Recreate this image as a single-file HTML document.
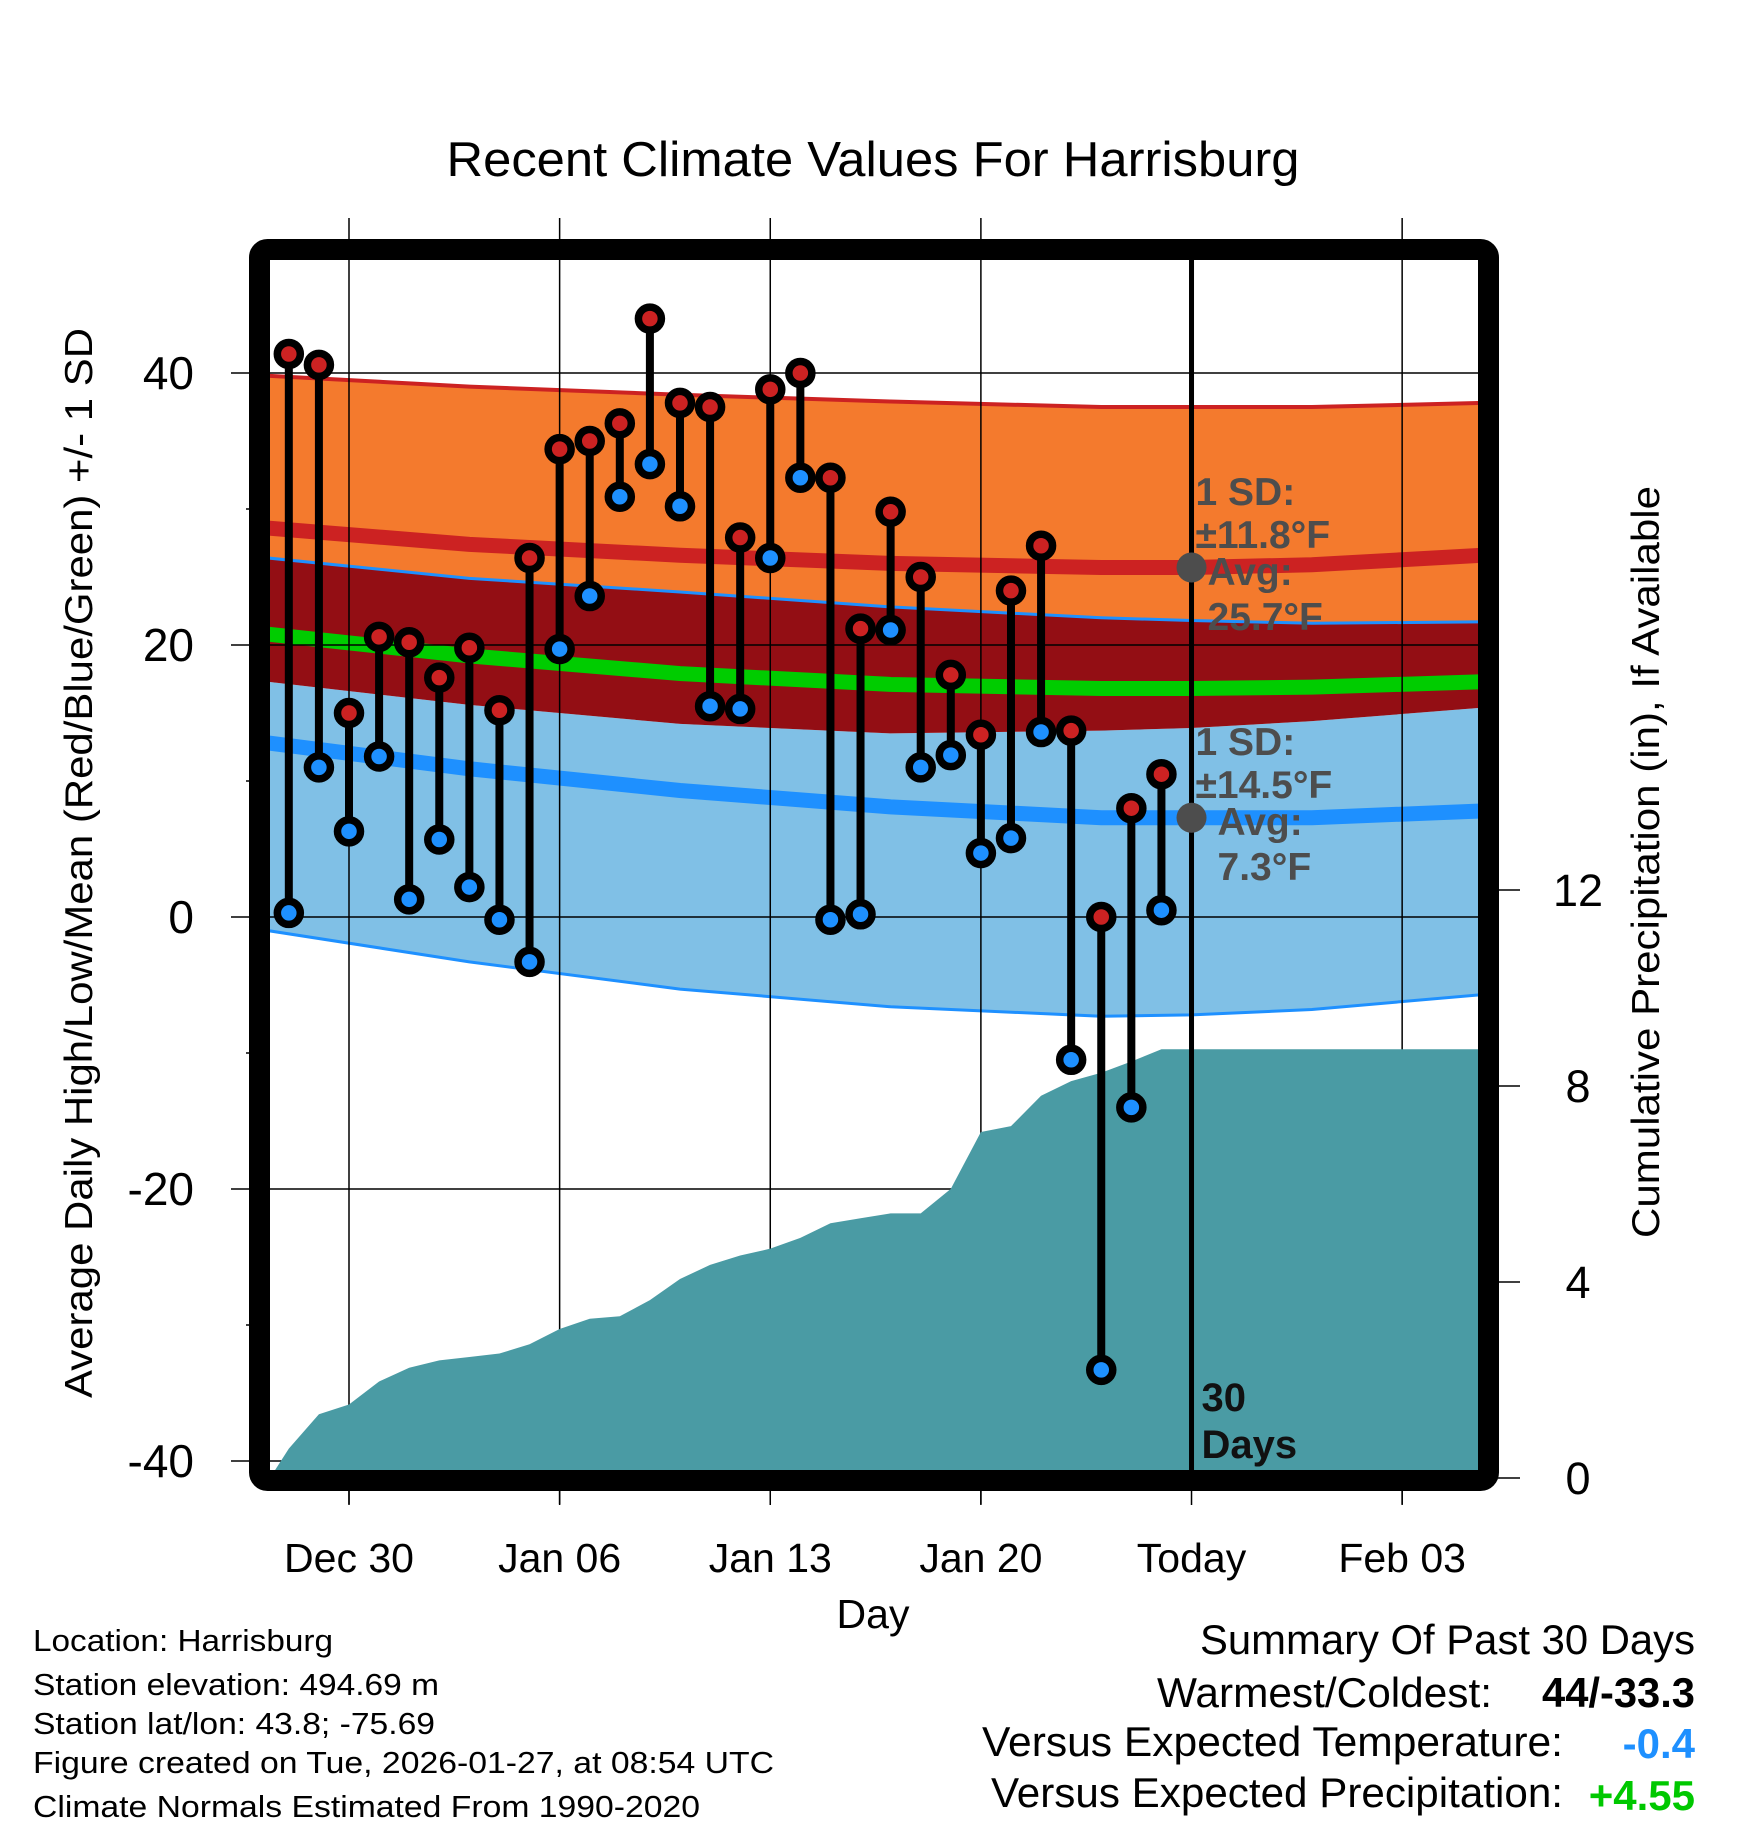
<!DOCTYPE html>
<html><head><meta charset="utf-8"><style>
html,body{margin:0;padding:0;background:#fff;}
svg{display:block;font-family:"Liberation Sans",Arial,sans-serif;}
</style></head><body>
<svg id="chart" width="1748" height="1828" viewBox="0 0 1748 1828" xmlns="http://www.w3.org/2000/svg">
<defs><clipPath id="plotclip"><rect x="270" y="260" width="1208" height="1211"/></clipPath></defs>
<text x="873" y="176" font-size="49" text-anchor="middle" textLength="853" lengthAdjust="spacingAndGlyphs">Recent Climate Values For Harrisburg</text>
<g id="bands" clip-path="url(#plotclip)"></g>
<g id="grid"></g>
<g id="precip" clip-path="url(#plotclip)"></g>
<g id="annot"></g>
<g id="marks"></g>
<rect x="259.5" y="249.5" width="1229" height="1231" rx="8" fill="none" stroke="#000" stroke-width="21"/>
<g id="axes"></g>
<text transform="translate(92,863) rotate(-90)" font-size="39" text-anchor="middle" textLength="1070" lengthAdjust="spacingAndGlyphs">Average Daily High/Low/Mean (Red/Blue/Green) +/- 1 SD</text>
<text transform="translate(1659,862) rotate(-90)" font-size="39" text-anchor="middle" textLength="752" lengthAdjust="spacingAndGlyphs">Cumulative Precipitation (in), If Available</text>
<text x="873" y="1628" font-size="41" text-anchor="middle">Day</text>
<g font-size="31">
<text x="33" y="1651" textLength="300" lengthAdjust="spacingAndGlyphs">Location: Harrisburg</text>
<text x="33" y="1695" textLength="406" lengthAdjust="spacingAndGlyphs">Station elevation: 494.69 m</text>
<text x="33" y="1734" textLength="402" lengthAdjust="spacingAndGlyphs">Station lat/lon: 43.8; -75.69</text>
<text x="33" y="1773" textLength="741" lengthAdjust="spacingAndGlyphs">Figure created on Tue, 2026-01-27, at 08:54 UTC</text>
<text x="33" y="1817" textLength="667" lengthAdjust="spacingAndGlyphs">Climate Normals Estimated From 1990-2020</text>
</g>
<g font-size="42">
<text x="1695" y="1654" text-anchor="end" textLength="495" lengthAdjust="spacingAndGlyphs">Summary Of Past 30 Days</text>
<text x="1492" y="1707" text-anchor="end" textLength="335" lengthAdjust="spacingAndGlyphs">Warmest/Coldest:</text>
<text x="1695" y="1707" text-anchor="end" font-weight="bold" textLength="153" lengthAdjust="spacingAndGlyphs">44/-33.3</text>
<text x="1563" y="1756" text-anchor="end" textLength="581" lengthAdjust="spacingAndGlyphs">Versus Expected Temperature:</text>
<text x="1695" y="1758" text-anchor="end" font-weight="bold" fill="#1e90ff">-0.4</text>
<text x="1563" y="1807" text-anchor="end" textLength="572" lengthAdjust="spacingAndGlyphs">Versus Expected Precipitation:</text>
<text x="1695" y="1810" text-anchor="end" font-weight="bold" fill="#00c800">+4.55</text>
</g>
</svg>
<script>
// ---- data ----
const obsDays = [-2,-1,0,1,2,3,4,5,6,7,8,9,10,11,12,13,14,15,16,17,18,19,20,21,22,23,24,25,26,27];
const highs = [41.4,40.6,15,20.6,20.2,17.6,19.8,15.2,26.4,34.4,35,36.3,44,37.8,37.5,27.9,38.8,40,32.3,21.2,29.8,25,17.8,13.4,24,27.3,13.7,0,8,10.5];
const lows = [0.3,11,6.3,11.8,1.3,5.7,2.2,-0.2,-3.3,19.7,23.6,30.9,33.3,30.2,15.5,15.3,26.4,32.3,-0.2,0.2,21.1,11,11.9,4.7,5.8,13.6,-10.5,-33.3,-14,0.5];
const precip = [0.6,1.3,1.5,1.97,2.25,2.4,2.47,2.54,2.73,3.04,3.25,3.3,3.63,4.06,4.35,4.54,4.68,4.9,5.2,5.3,5.4,5.4,5.9,7.06,7.18,7.8,8.1,8.27,8.5,8.75];
const normDays = [-2.7,4,11,18,25,28,32,37.7];
const hiUpper = [39.8,39.0,38.4,37.9,37.5,37.5,37.5,37.8];
const hiMean = [28.6,27.4,26.6,26.0,25.7,25.7,25.9,26.6];
const hiLower = [26.4,24.9,23.9,22.8,22.0,21.8,21.6,21.7];
const avgMean = [20.8,19.2,17.9,17.1,16.8,16.8,16.9,17.3];
const loUpper = [17.3,15.6,14.2,13.5,13.7,13.9,14.4,15.4];
const loMean = [12.8,10.9,9.3,8.1,7.3,7.3,7.3,7.8];
const loLower = [-1.0,-3.3,-5.3,-6.6,-7.3,-7.2,-6.8,-5.7];
const xTickDays = [0,7,14,21,28,35];
const xTickLabels = ["Dec 30","Jan 06","Jan 13","Jan 20","Today","Feb 03"];
const yTicks = [40,20,0,-20,-40];
const yMinor = [30,10,-10,-30];
const pTicks = [12,8,4,0];
const todayDay = 28;
const hiSD = 11.8, loSD = 14.5, hiAvgToday = 25.7, loAvgToday = 7.3;

// ---- scales ----
const X = d => 349 + d * 30.09;
const Y = t => 917 - t * 13.6;
const P = p => 1478 - p * 49;
const NS = "http://www.w3.org/2000/svg";
function mk(tag, attrs, parent){const e=document.createElementNS(NS,tag);for(const k in attrs)e.setAttribute(k,attrs[k]);parent.appendChild(e);return e;}
const bands=document.getElementById('bands'),grid=document.getElementById('grid'),pg=document.getElementById('precip'),marks=document.getElementById('marks'),axes=document.getElementById('axes'),annot=document.getElementById('annot');
const xL=270, xR=1478;
function line(arr){return normDays.map((d,i)=>X(d)+','+Y(arr[i])).join(' ');}
function band(up,lo){return normDays.map((d,i)=>X(d)+','+Y(up[i])).join(' ')+' '+normDays.slice().reverse().map((d,j)=>{const i=normDays.length-1-j;return X(d)+','+Y(lo[i]);}).join(' ');}
let e;
e=mk('polygon',{points:band(loUpper,loLower),fill:'#80c0e6'},bands);


e=mk('polygon',{points:band(hiLower,loUpper),fill:'#930e14'},bands);


e=mk('polygon',{points:band(hiUpper,hiLower),fill:'#f47a2d'},bands);


const lines=[[hiUpper,'#cc2222',4,'high-upper-line'],[hiLower,'#1e90ff',3,'high-lower-line'],[loLower,'#1e90ff',3,'low-lower-line'],[hiMean,'#cc2222',15,'high-mean-line'],[avgMean,'#00cc00',15,'mean-line'],[loMean,'#1e90ff',15,'low-mean-line']];
for(const [arr,c,w,n] of lines){e=mk('polyline',{points:line(arr),fill:'none',stroke:c,'stroke-width':w},bands);

}
// grid
xTickDays.forEach((d,i)=>{ if(d===todayDay) return;
 e=mk('line',{x1:X(d),x2:X(d),y1:218,y2:1504,stroke:'#000','stroke-width':1.5},grid);
 
 });
yTicks.forEach(t=>{e=mk('line',{x1:231,x2:xR,y1:Y(t),y2:Y(t),stroke:'#000','stroke-width':1.5},grid);
 
 });
yMinor.forEach(t=>{e=mk('line',{x1:246,x2:260,y1:Y(t),y2:Y(t),stroke:'#000','stroke-width':1.5},grid);
 
 });
// precip
let pts=xL+','+P(0)+' '+obsDays.map((d,i)=>X(d)+','+P(precip[i])).join(' ')+' '+xR+','+P(precip[precip.length-1])+' '+xR+','+P(-1)+' '+xL+','+P(-1);
e=mk('polygon',{points:pts,fill:'#4a9ba4'},pg);


// today line
e=mk('line',{x1:X(todayDay),x2:X(todayDay),y1:260,y2:1475,stroke:'#000','stroke-width':5},annot);


e=mk('text',{x:X(todayDay)+10,y:1411,'font-size':40,'font-weight':'bold',fill:'#111'},annot);e.textContent='30';


e=mk('text',{x:X(todayDay)+10,y:1458,'font-size':40,'font-weight':'bold',fill:'#111'},annot);e.textContent='Days';


function annotate(avg,sd,yTop,dx,name){
 const c=mk('circle',{cx:X(todayDay),cy:Y(avg),r:15,fill:'#4d4d4d'},annot);
 
 
 const rows=[['1 SD:',4,0],['±'+sd+'°F',4,43],['Avg:',16+dx,80],[avg+'°F',16+dx,125]];
 rows.forEach(r=>{const t=mk('text',{x:X(todayDay)+r[1],y:yTop+r[2],'font-size':39,'font-weight':'bold',fill:'#4d4d4d'},annot);t.textContent=r[0];
 
 });
}
annotate(hiAvgToday,hiSD,505,0,'high');
annotate(loAvgToday,loSD,755,10,'low');
// marks
obsDays.forEach((d,i)=>{
 e=mk('line',{x1:X(d),x2:X(d),y1:Y(highs[i]),y2:Y(lows[i]),stroke:'#000','stroke-width':8},marks);
 
 });
obsDays.forEach((d,i)=>{
 e=mk('circle',{cx:X(d),cy:Y(lows[i]),r:11.5,fill:'#1e90ff',stroke:'#000','stroke-width':7.5},marks);
 
 
 e=mk('circle',{cx:X(d),cy:Y(highs[i]),r:11.5,fill:'#cc2222',stroke:'#000','stroke-width':7.5},marks);
 
 });
// axes labels
xTickDays.forEach((d,i)=>{
 e=mk('line',{x1:X(d),x2:X(d),y1:1488,y2:1505,stroke:'#000','stroke-width':1.5},axes);
 
 
 e=mk('text',{x:X(d),y:1572,'font-size':41,'text-anchor':'middle'},axes);e.textContent=xTickLabels[i];
 
 });
yTicks.forEach(t=>{e=mk('text',{x:194,y:Y(t)+16,'font-size':46,'text-anchor':'end'},axes);e.textContent=String(t);
 
 });
pTicks.forEach(p=>{e=mk('line',{x1:1498,x2:1520,y1:P(p),y2:P(p),stroke:'#000','stroke-width':1.5},axes);
 
 
 e=mk('text',{x:1578,y:P(p)+16,'font-size':45,'text-anchor':'middle'},axes);e.textContent=String(p);
 
 });
</script>
</body></html>
